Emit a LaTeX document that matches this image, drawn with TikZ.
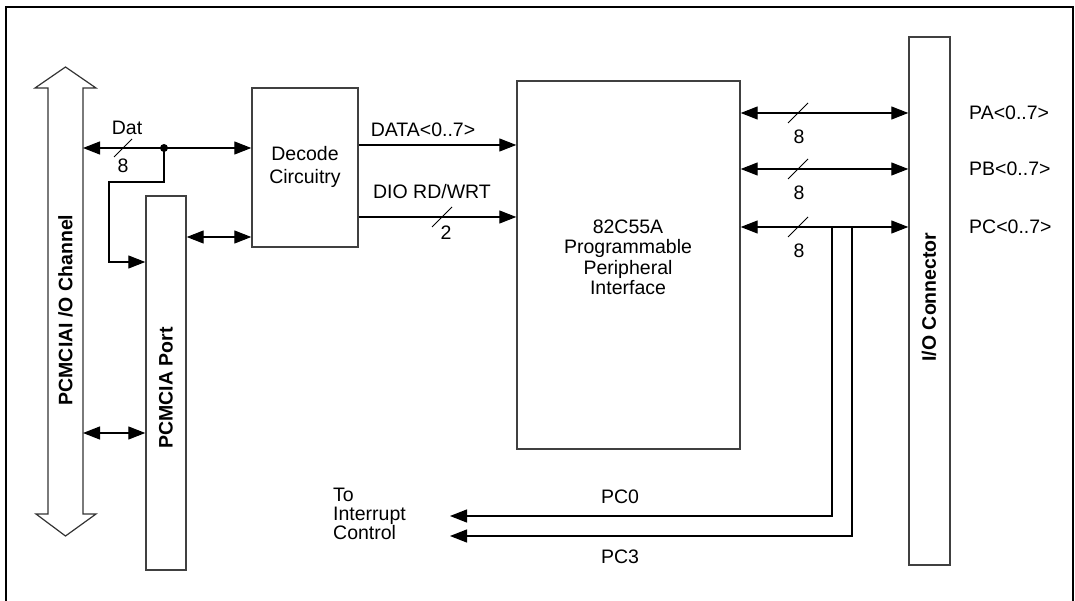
\documentclass[tikz,border=0pt]{standalone}
\usepackage{fontspec}
\setmainfont{Liberation Sans}
\usetikzlibrary{arrows.meta}
\begin{document}
\begin{tikzpicture}[x=1pt,y=-1pt,
  >={Triangle[length=17pt,width=13pt]},
  every node/.style={font=\fontsize{19.5}{21}\selectfont},
  box/.style={draw=black!75,line width=1.4pt,inner sep=0pt},
  conn/.style={line width=1.2pt,black},
  txt/.style={inner sep=0pt,align=center},
  boldtxt/.style={inner sep=0pt,font=\fontsize{19.5}{21}\selectfont\bfseries},
  slash/.style={line width=1pt}]
\useasboundingbox (0,0) rectangle (1075,601);
% frame
\draw[line width=2pt] (6,601) -- (6,7) -- (1073,7) -- (1073,601);

% channel block arrow
\draw[line width=1.2pt,black!80,line join=miter]
  (48,88) -- (35,88) -- (65.5,67) -- (96,88) -- (83,88) -- (83,514) -- (96,514)
  -- (65.5,536) -- (36,514) -- (48,514) -- cycle;
\node[boldtxt,rotate=90] (chantxt) at (65.5,310) {PCMCIAI /O Channel};
\coordinate (chA) at (83,148);
\coordinate (chB) at (83,433);

% boxes
\node[box,minimum width=106pt,minimum height=159pt] (dec) at (305,167.5) {};
\node[txt,font=\fontsize{19.5}{23}\selectfont] (dectxt) at (305,166.5) {Decode\\Circuitry};
\node[box,rotate=90,minimum width=374pt,minimum height=40pt,
      font=\fontsize{19.5}{21}\selectfont\bfseries] (port) at (166,383) {};
\node[boldtxt,rotate=90] (porttxt) at (166,388) {PCMCIA Port};
\node[box,minimum width=223pt,minimum height=368pt] (ppi) at (628.5,265) {};
\node[txt,font=\fontsize{19.5}{20.5}\selectfont] (ppitxt) at (628,257.5)
  {82C55A\\Programmable\\Peripheral\\Interface};
\node[box,rotate=90,minimum width=528pt,minimum height=41pt] (io) at (929.5,301) {};
\node[boldtxt,rotate=90] (iotxt) at (929,297) {I/O Connector};

% Dat bus
\coordinate (dot) at (164,148);
\draw[conn,<->] (chA) -- (dec.west |- chA);
\fill (dot) circle (4);
\draw[slash] (114,157) -- (132,139);
\node[txt] (dat) at (127,128) {Dat};
\node[txt] (dat8) at (123,166) {8};
\coordinate (k1) at (164,182);
\coordinate (k2) at (109,182);
\coordinate (k3) at (109,262);
\draw[conn,->] (dot) -- (k1) -- (k2) -- (k3) -- (port.north |- k3);

% port <-> decode
\coordinate (pd) at (186,237);
\draw[conn,<->] (port.south |- pd) -- (dec.west |- pd);
% channel <-> port
\draw[conn,<->] (chB) -- (port.north |- chB);

% decode -> ppi
\coordinate (d1) at (358,145);
\coordinate (d2) at (358,217);
\draw[conn,->] (dec.east |- d1) -- (ppi.west |- d1);
\node[txt] (datalbl) at (423,130) {DATA<0..7>};
\draw[conn,->] (dec.east |- d2) -- (ppi.west |- d2);
\node[txt] (diolbl) at (432,192) {DIO RD/WRT};
\draw[slash] (432,227) -- (452,207);
\node[txt] (dio2) at (446,233) {2};

% ppi <-> io
\foreach \yy/\nm/\lb in {113/pa/PA,169/pb/PB,227/pc/PC}{
  \coordinate (\nm) at (740,\yy);
  \draw[conn,<->] (ppi.east |- \nm) -- (io.north |- \nm);
  \draw[slash] (788,\yy+10) -- (808,\yy-10);
  \node[txt] (\nm8) at (799,\yy+24) {8};
  \node[txt,anchor=west] (\nm lbl) at (969,\yy) {\lb<0..7>};
}

% interrupt lines
\coordinate (v1) at (832,227);
\coordinate (v2) at (852,227);
\coordinate (i1) at (832,516);
\coordinate (i2) at (852,536);
\coordinate (t1) at (450,516);
\coordinate (t2) at (450,536);
\draw[conn,->] (v1) -- (i1) -- (t1);
\draw[conn,->] (v2) -- (i2) -- (t2);
\node[txt] (pc0) at (620,497) {PC0};
\node[txt] (pc3) at (620,557) {PC3};
\node[inner sep=0pt,align=left,anchor=north west,font=\fontsize{19.5}{19}\selectfont]
  (intr) at (333,488) {To\\Interrupt\\Control};
\end{tikzpicture}
\end{document}
